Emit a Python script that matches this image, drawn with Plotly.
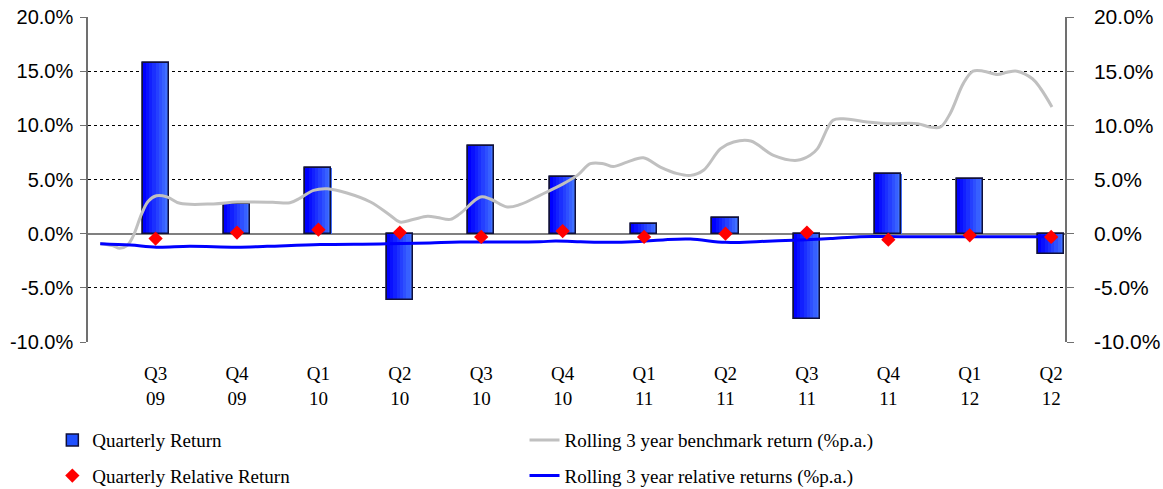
import plotly.graph_objects as go

# Quarter labels (two-line: quarter / year)
quarters = ["Q3<br>09", "Q4<br>09", "Q1<br>10", "Q2<br>10", "Q3<br>10", "Q4<br>10",
            "Q1<br>11", "Q2<br>11", "Q3<br>11", "Q4<br>11", "Q1<br>12", "Q2<br>12"]
quarter_pos = list(range(len(quarters)))

# Quarterly figures (%)
quarterly_return = [15.75, 2.7, 6.1, -6.15, 8.1, 5.2, 0.9, 1.45, -7.9, 5.55, 5.05, -1.9]
relative_return = [-0.45, 0.1, 0.37, 0.1, -0.3, 0.24, -0.3, 0.0, 0.1, -0.55, -0.15, -0.3]

# Rolling 3 year benchmark return (%p.a.), time in quarters from Q3 09
bench_t = [-0.68, -0.53, -0.44, -0.35, -0.28, -0.17, -0.09, 0.01, 0.14, 0.30, 0.71, 1.00,
           1.44, 1.65, 1.78, 1.94, 2.11, 2.35, 2.64, 2.88, 3.00, 3.16, 3.34, 3.46, 3.62,
           3.74, 3.99, 4.11, 4.32, 4.48, 4.72, 4.97, 5.18, 5.34, 5.50, 5.62, 5.79, 5.99,
           6.20, 6.41, 6.57, 6.73, 6.94, 7.10, 7.31, 7.59, 7.88, 8.04, 8.13, 8.32, 8.45,
           8.74, 8.99, 9.36, 9.51, 9.64, 9.76, 9.92, 10.04, 10.17, 10.34, 10.46, 10.58,
           10.77, 10.87, 11.01]
bench_val = [-0.9, -1.1, -1.35, -1.1, -0.3, 1.85, 3.0, 3.5, 3.4, 2.8, 2.75, 2.92,
             2.9, 2.85, 3.3, 4.0, 4.15, 3.75, 2.92, 1.7, 1.07, 1.3, 1.6, 1.5, 1.32,
             1.85, 3.38, 3.2, 2.46, 2.7, 3.54, 4.46, 5.38, 6.46, 6.46, 6.2, 6.6, 7.0,
             6.15, 5.54, 5.38, 5.85, 7.85, 8.46, 8.55, 7.23, 6.77, 7.23, 7.85, 10.46, 10.6,
             10.3, 10.15, 10.15, 9.85, 9.85, 11.1, 13.85, 15.0, 15.0, 14.7, 14.9, 15.0,
             14.3, 13.4, 11.7]

# Rolling 3 year relative returns (%p.a.)
rel_t = [-0.68, -0.31, 0.01, 0.42, 1.00, 1.37, 2.02, 2.76, 3.37, 3.74, 4.72, 4.91,
         5.22, 5.46, 5.95, 6.26, 6.57, 7.00, 7.43, 7.92, 8.29, 8.65, 9.15, 9.88, 11.0]
rel_val = [-0.92, -1.05, -1.25, -1.17, -1.25, -1.17, -1.0, -0.95, -0.85, -0.78, -0.75, -0.68,
           -0.75, -0.8, -0.72, -0.55, -0.5, -0.8, -0.72, -0.58, -0.45, -0.28, -0.28, -0.28, -0.28]

y_ticks = [-10, -5, 0, 5, 10, 15, 20]
y_ticktext = ["-10.0%", "-5.0%", "0.0%", "5.0%", "10.0%", "15.0%", "20.0%"]

SERIF = "Liberation Serif, Times New Roman, serif"
SANS = "Liberation Sans, Arial, sans-serif"

BAR_W = 0.32
N_STRIPS = 8
dark = (0, 0, 255)
light = (64, 112, 255)

fig = go.Figure()

# base bar, also used for the legend entry
fig.add_trace(go.Bar(
    x=quarter_pos, y=quarterly_return, width=BAR_W, name="Quarterly Return",
    marker=dict(color="#2050ff", line=dict(color="#10103a", width=1.5)),
    legend="legend", legendgroup="a", legendrank=1, hoverinfo="skip"))

# horizontal gradient fill drawn as thin vertical strips
for k in range(N_STRIPS):
    f = k / (N_STRIPS - 1)
    col = "rgb(%d,%d,%d)" % tuple(round(d + (l - d) * f) for d, l in zip(dark, light))
    fig.add_trace(go.Bar(
        x=quarter_pos, y=quarterly_return, width=BAR_W / N_STRIPS + 0.002,
        offset=-BAR_W / 2 + k * BAR_W / N_STRIPS,
        marker=dict(color=col, line=dict(width=0)),
        showlegend=False, hoverinfo="skip"))

# outline on top
fig.add_trace(go.Bar(
    x=quarter_pos, y=quarterly_return, width=BAR_W,
    marker=dict(color="rgba(0,0,0,0)", line=dict(color="#10103a", width=1.5)),
    showlegend=False, hoverinfo="skip"))

fig.add_trace(go.Scatter(
    x=bench_t, y=bench_val, mode="lines", line=dict(color="#c0c0c0", width=3, shape="spline"),
    name="Rolling 3 year benchmark return (%p.a.)", legend="legend2", legendgroup="c",
    legendrank=1))

fig.add_trace(go.Scatter(
    x=rel_t, y=rel_val, mode="lines", line=dict(color="#0000ff", width=3, shape="spline"),
    name="Rolling 3 year relative returns (%p.a.)", legend="legend2", legendgroup="d",
    legendrank=2))

fig.add_trace(go.Scatter(
    x=quarter_pos, y=relative_return, mode="markers",
    marker=dict(symbol="diamond", color="#ff0000", size=11, line=dict(width=0)),
    name="Quarterly Relative Return", legend="legend", legendgroup="b", legendrank=2))

# invisible trace to bring up the right-hand axis
fig.add_trace(go.Scatter(x=[None], y=[None], yaxis="y2", showlegend=False))

legend_font = dict(family=SERIF, size=19, color="black")

fig.update_layout(
    width=1163, height=489,
    margin=dict(l=88, r=98, t=17, b=147, autoexpand=False),
    paper_bgcolor="white", plot_bgcolor="white",
    barmode="overlay", bargap=0,
    showlegend=True,
    xaxis=dict(
        range=[-0.83, 11.17], tickvals=quarter_pos, ticktext=quarters,
        showgrid=False, zeroline=False, showline=False, ticks="", automargin=False,
        tickfont=dict(family=SERIF, size=19, color="black"), ticklabelstandoff=18),
    yaxis=dict(
        range=[-10, 20], tickvals=y_ticks, ticktext=y_ticktext, automargin=False,
        showgrid=True, gridcolor="black", griddash="3px,3px", gridwidth=1,
        zeroline=True, zerolinecolor="#808080", zerolinewidth=1.5,
        showline=True, linecolor="#707070", linewidth=1.5,
        ticks="outside", ticklen=6, tickcolor="#707070",
        tickfont=dict(family=SANS, size=20, color="black"), ticklabelstandoff=3),
    yaxis2=dict(
        range=[-10, 20], tickvals=y_ticks, ticktext=y_ticktext, overlaying="y", side="right",
        showgrid=False, zeroline=False, automargin=False,
        showline=True, linecolor="#707070", linewidth=1.5,
        ticks="outside", ticklen=7, tickcolor="#707070",
        tickfont=dict(family=SANS, size=21, color="black"), ticklabelstandoff=16),
    legend=dict(
        xref="container", yref="container",
        x=0.045, y=0.139, xanchor="left", yanchor="top", orientation="v",
        font=legend_font, tracegroupgap=8, bgcolor="rgba(0,0,0,0)"),
    legend2=dict(
        xref="container", yref="container",
        x=0.451, y=0.139, xanchor="left", yanchor="top", orientation="v",
        font=legend_font, tracegroupgap=8, bgcolor="rgba(0,0,0,0)"),
)

fig.write_html("out.html")
